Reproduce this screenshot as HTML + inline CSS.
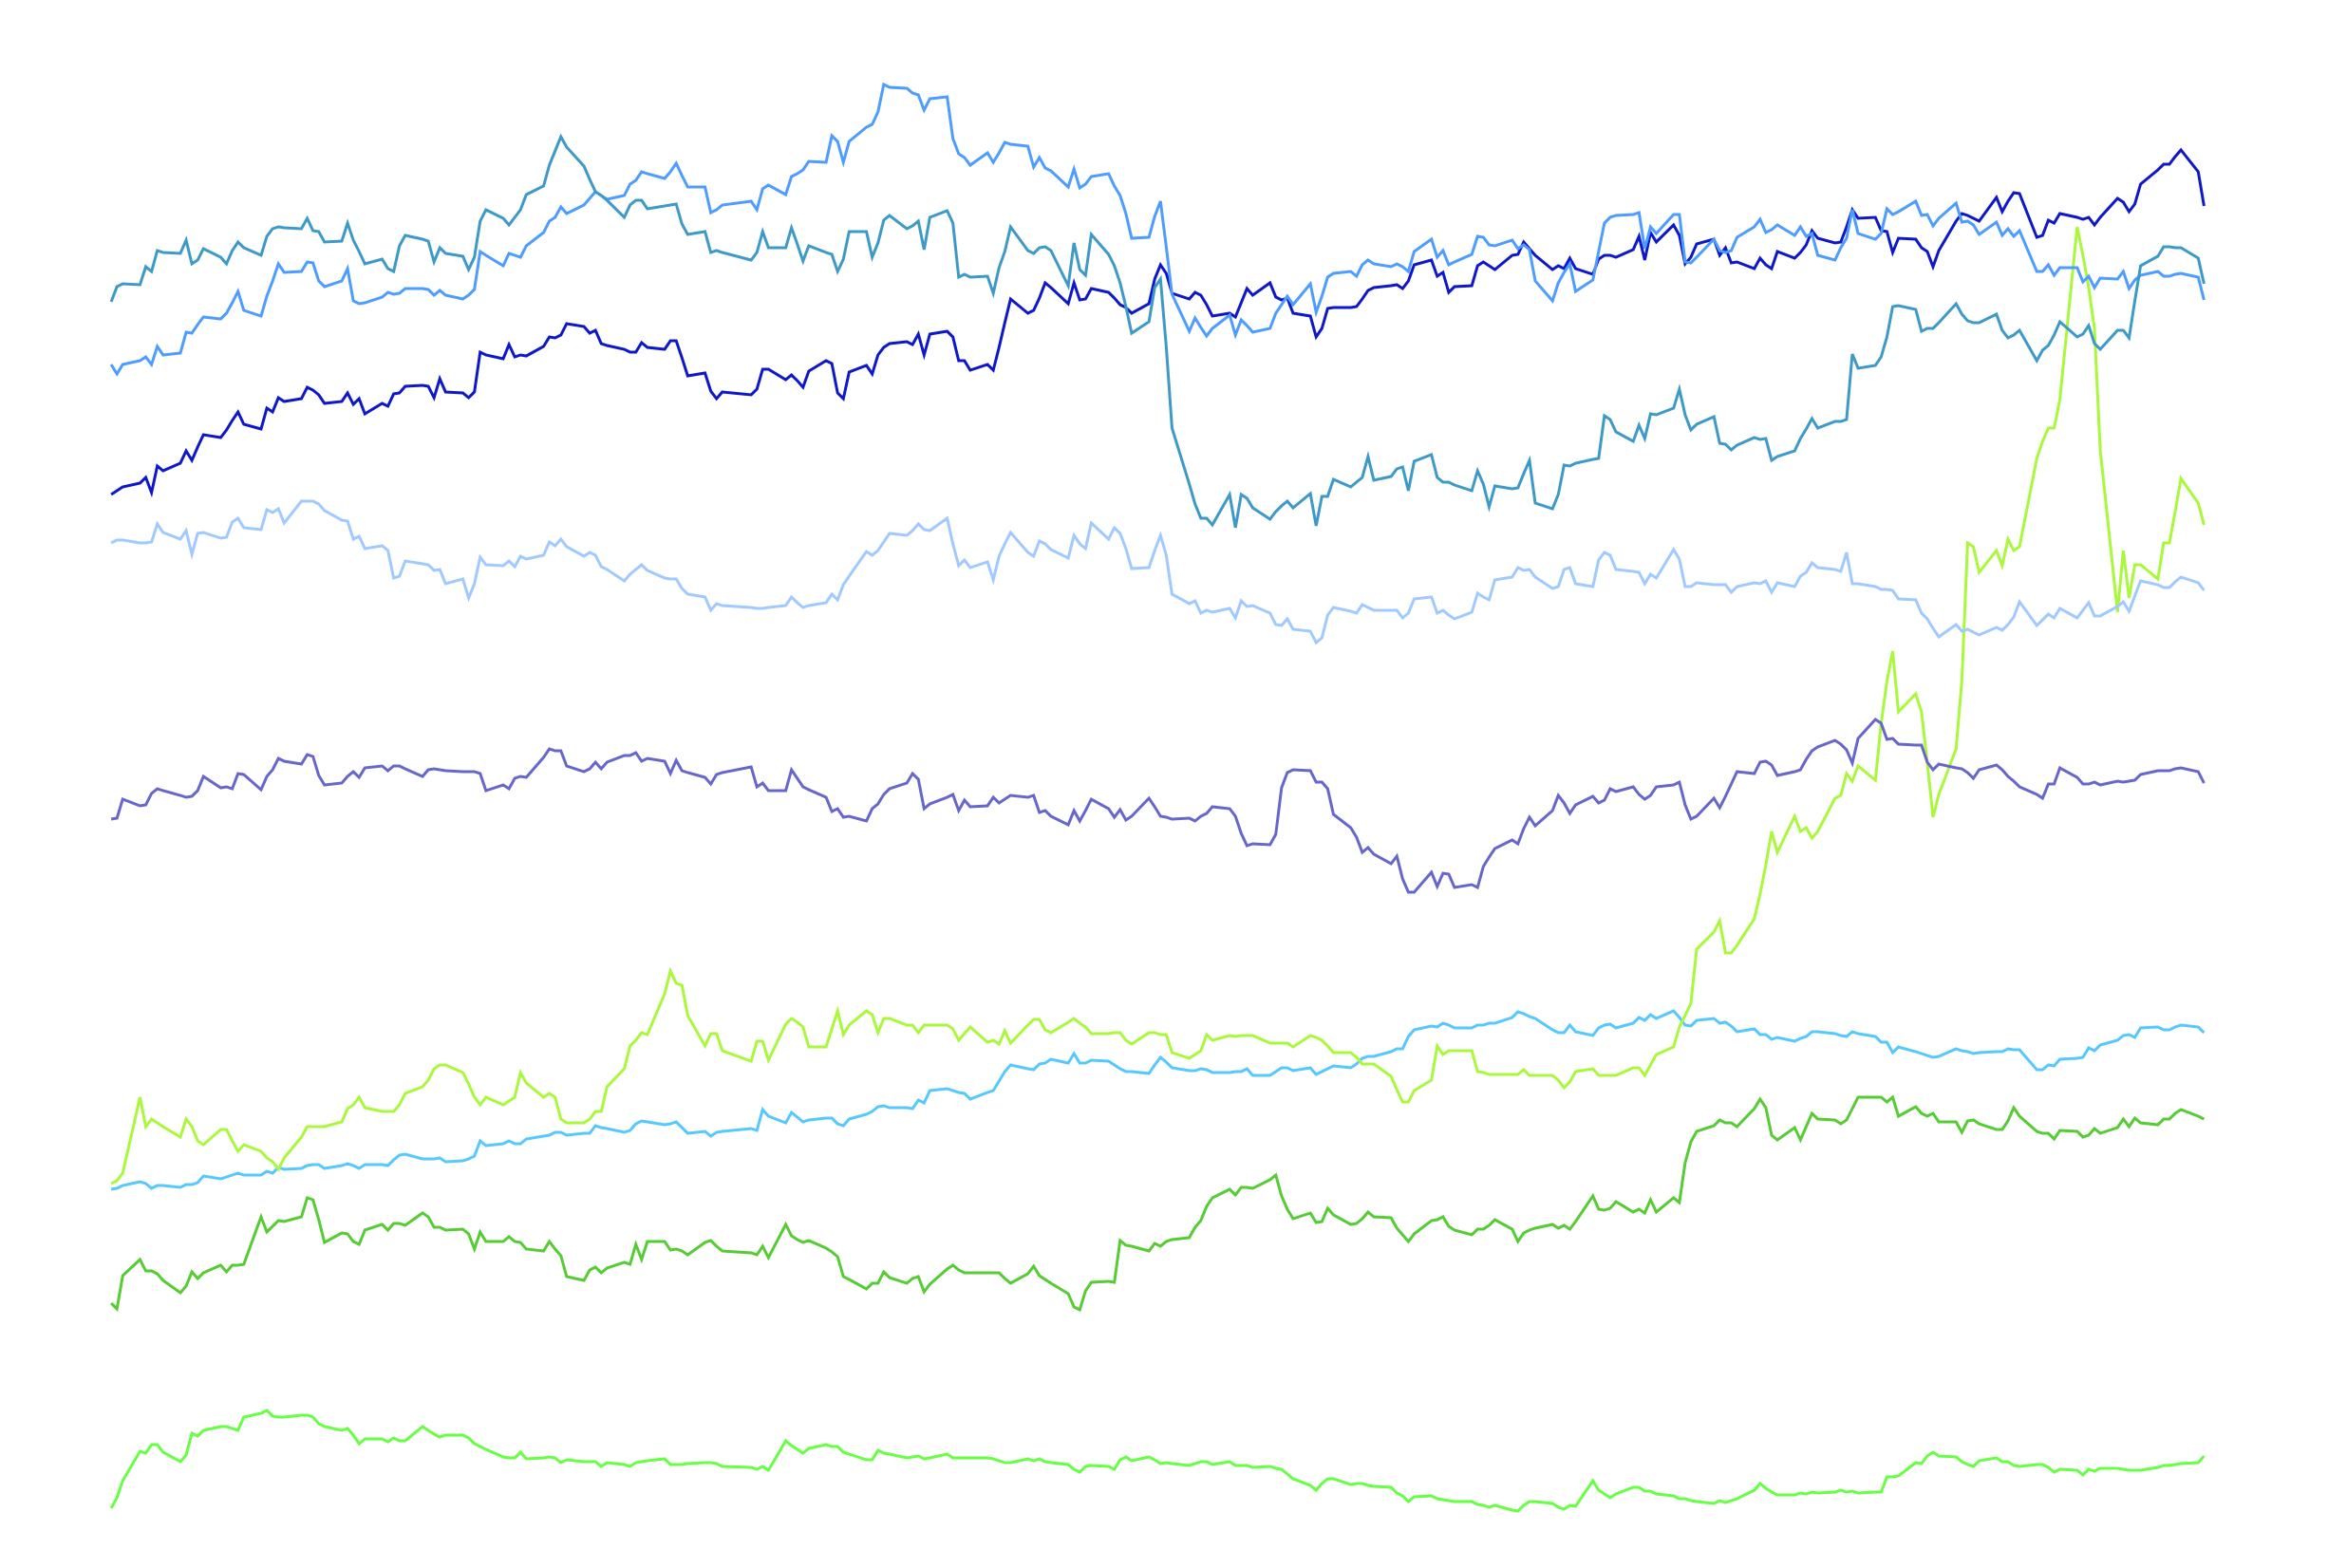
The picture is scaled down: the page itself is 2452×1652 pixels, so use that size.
<!DOCTYPE html>
<html lang="en">
<head>
<meta charset="utf-8">
<title>Multi-series line chart</title>
<style>
html,body{margin:0;padding:0;background:#fff;}
#chart{display:block;width:2452px;height:1652px;background:#fff;}
</style>
</head>
<body>
<svg id="chart" xmlns="http://www.w3.org/2000/svg" width="2452" height="1652" viewBox="0 0 2452 1652"></svg>
<script>
// Calendar-day offsets: weekends are skipped, and these two holidays have no data.
const lastDay = 363;
const holidays = [107, 110];

const seriesTeal = [
1682,1698,1701,1700,1719,1714,1736,1734,1733,1747,1722,1726,1738,1729,1722,1736,1745,1739,1731,1751,1759,1761,1760,1759,1770,1757,1756,1745,1746,1765,1747,1735,1722,1727,1717,1714,1741,1752,1748,1746,1724,1739,1733,1730,1716,1729,1767,1779,1770,1763,1771,1779,1795,1804,1826,1841,1856,1845,1825,1811,1798,1794,1789,
1771,1784,1789,1789,1780,1783,1784,1785,1764,1753,1756,1734,1736,1734,1726,1734,1756,1739,1739,1760,1743,1725,1741,1734,1732,1714,1727,1756,1756,1729,1744,1768,1773,1759,1762,1767,1737,1771,1778,1765,1708,1711,1708,1709,1691,1718,1735,1761,1736,1733,1739,1740,1736,1699,1744,1716,1710,1753,1732,1720,1702,1677,1649,
1661,1697,1706,1635,1549,1490,1469,1454,1454,1447,1479,1444,1479,1475,1465,1453,1461,1467,1472,1465,1480,1446,1477,1477,1495,1487,1492,1497,1519,1494,1498,1506,1508,1483,1514,1521,1497,1492,1492,1489,1483,1504,1490,1466,1488,1485,1486,1501,1515,1470,1464,1479,1510,1509,1512,1516,1517,1562,1558,1545,1535,1552,1538,1564,1563,
1570,1590,1563,1547,1553,
1561,1533,1532,1526,1531,1539,1537,1538,1515,1519,1525,1538,1548,1559,1549,1556,1556,1558,1627,1612,1615,1624,1645,1677,1678,1674,1651,1654,1654,1660,1680,1669,1662,1660,1660,1669,1652,1644,1647,1652,1620,1631,1636,1647,1661,1645,1648,1657,1638,1632,1652,1652,1644,1683,1720,1730,1740,1740,1739,1739,1728,1701
];
const seriesBlue = [
1616,1606,1616,1620,1624,1616,1635,1626,1628,1650,1649,1658,1666,1664,1670,1681,1693,1673,1667,1688,1704,1722,1713,1714,1724,1723,1704,1698,1704,1717,1683,1680,1681,1687,1692,1690,1691,1696,1696,1695,1689,1694,1689,1685,1689,1695,1735,1731,1720,1733,1731,1729,1741,1755,1767,1771,1782,1775,1784,1791,1798,1794,1790,
1794,1806,1810,1819,1817,1812,1819,1828,1815,1803,1803,1776,1779,1784,1788,1779,1801,1805,1795,1814,1817,1821,1830,1829,1857,1851,1829,1851,1866,1869,1882,1911,1908,1907,1902,1900,1884,1896,1898,1854,1838,1834,1826,1839,1829,1839,1850,1848,1846,1824,1834,1823,1820,1803,1822,1802,1806,1814,1817,1804,1794,1775,1749,
1750,1772,1788,1740,1690,1651,1665,1655,1646,1654,1668,1647,1663,1657,1650,1654,1670,1679,1688,1679,1701,1671,1688,1708,1712,1714,1709,1721,1726,1722,1719,1722,1719,1714,1735,1748,1729,1736,1721,1724,1732,1751,1750,1742,1741,1747,1738,1742,1737,1704,1683,1702,1713,1722,1693,1705,1735,1765,1771,1773,1774,1776,1738,1761,1754,
1774,1774,1724,1723,1729,
1748,1736,1734,1736,1750,1761,1769,1755,1758,1763,1752,1761,1751,1754,1731,1726,1739,1749,1779,1754,1748,1754,1780,1774,1777,1788,1773,1774,1762,1770,1786,1766,1767,1763,1753,1766,1752,1759,1751,1757,1714,1714,1721,1710,1718,1718,1703,1709,1697,1707,1706,1714,1696,1705,1710,1714,1709,1709,1711,1712,1708,1684
];
const seriesNavy = [
1479,1483,1487,1491,1497,1481,1509,1504,1512,1525,1515,1529,1542,1539,1547,1557,1566,1553,1548,1570,1566,1581,1577,1580,1592,1589,1584,1575,1577,1586,1574,1580,1564,1575,1572,1585,1586,1593,1594,1593,1581,1601,1587,1586,1581,1587,1629,1626,1622,1637,1624,1626,1625,1635,1645,1644,1647,1659,1656,1649,1652,1638,1636,
1632,1629,1629,1639,1634,1632,1641,1641,1623,1604,1607,1588,1580,1587,1584,1590,1611,1611,1600,1605,1599,1592,1609,1620,1617,1586,1580,1608,1615,1606,1626,1634,1638,1640,1637,1648,1626,1648,1651,1645,1620,1620,1610,1616,1610,1634,1660,1685,1670,1673,1686,1702,1697,1680,1702,1684,1685,1696,1692,1686,1679,1676,1670,
1680,1706,1721,1712,1691,1685,1692,1689,1679,1667,1670,1666,1681,1696,1689,1702,1687,1684,1686,1670,1667,1645,1654,1675,1676,1676,1677,1685,1694,1697,1699,1700,1696,1704,1721,1726,1709,1713,1692,1698,1699,1720,1724,1720,1716,1731,1732,1745,1738,1731,1716,1720,1717,1728,1717,1711,1727,1731,1731,1729,1737,1751,1726,1755,1745,
1763,1752,1722,1729,1743,
1748,1731,1739,1723,1724,1717,1728,1721,1717,1735,1728,1734,1742,1757,1749,1744,1745,1761,1779,1770,1771,1757,1756,1734,1749,1748,1739,1735,1719,1736,1767,1775,1773,1770,1767,1792,1777,1788,1797,1796,1750,1752,1768,1765,1775,1771,1769,1771,1763,1771,1791,1787,1777,1785,1806,1821,1827,1827,1835,1842,1819,1783
];
const seriesLightBlue = [
1428,1431,1431,1428,1428,1429,1448,1439,1432,1441,1416,1438,1439,1433,1434,1450,1454,1444,1442,1463,1460,1464,1449,1472,1472,1472,1469,1462,1452,1451,1432,1435,1422,1425,1420,1391,1393,1409,1406,1405,1399,1400,1385,1390,1370,1385,1413,1405,1404,1409,1403,1414,1411,1415,1429,1425,1432,1424,1414,1418,1415,1403,1400,
1388,1395,1400,1405,1399,1391,1390,1390,1380,1374,1371,1357,1364,1362,1360,1359,1359,1360,1362,1371,1365,1360,1362,1365,1374,1368,1384,1393,1419,1415,1420,1429,1438,1436,1441,1448,1442,1441,1454,1427,1404,1410,1402,1408,1389,1414,1427,1439,1418,1414,1430,1427,1421,1412,1436,1427,1422,1449,1432,1444,1438,1422,1401,
1402,1420,1436,1415,1374,1364,1367,1354,1357,1355,1359,1349,1367,1361,1362,1354,1342,1341,1348,1337,1335,1323,1328,1352,1360,1356,1354,1363,1360,1357,1357,1357,1349,1354,1369,1371,1354,1357,1352,1348,1355,1375,1371,1368,1389,1392,1402,1399,1400,1392,1380,1382,1400,1402,1385,1382,1410,1418,1415,1400,1398,1397,1385,1395,1391,
1421,1411,1382,1382,1386,
1384,1384,1384,1376,1382,1386,1385,1388,1376,1386,1382,1393,1397,1407,1402,1400,1398,1418,1385,1385,1382,1379,1379,1378,1369,1368,1354,1348,1338,1329,1342,1335,1337,1334,1331,1339,1336,1342,1350,1366,1341,1347,1353,1349,1359,1349,1357,1365,1351,1351,1361,1366,1356,1372,1388,1384,1381,1381,1387,1392,1386,1378
];
const seriesPurple = [
1137,1138,1158,1151,1152,1164,1169,1167,1162,1160,1161,1167,1182,1170,1171,1169,1185,1184,1168,1182,1189,1201,1198,1195,1205,1203,1183,1173,1175,1182,1187,1181,1191,1193,1188,1193,1193,1190,1182,1189,1190,1189,1188,1187,1187,1187,1185,1167,1173,1169,1180,1182,1181,1202,1211,1209,1209,1193,1187,1190,1197,1190,1197,
1204,1204,1207,1198,1201,1198,1185,1199,1188,1186,1181,1174,1184,1186,1192,1171,1175,1167,1167,1189,1180,1171,1168,1160,1145,1148,1139,1140,1135,1148,1153,1163,1169,1175,1185,1179,1148,1153,1160,1163,1146,1157,1150,1151,1160,1154,1158,1162,1160,1162,1144,1146,1140,1131,1146,1135,1146,1158,1148,1139,1147,1136,1140,
1159,1150,1140,1139,1137,1138,1135,1140,1143,1150,1148,1140,1122,1109,1111,1110,1121,1170,1186,1189,1188,1176,1176,1169,1142,1128,1118,1102,1107,1100,1090,1098,1074,1060,1060,1081,1066,1080,1079,1065,1068,1065,1087,1097,1106,1115,1111,1127,1139,1130,1146,1162,1154,1143,1152,1161,1154,1157,1169,1166,1171,1163,1158,1162,1171,
1173,1176,1152,1137,1140,
1159,1149,1161,1174,1187,1185,1197,1198,1194,1183,1187,1189,1200,1209,1213,1220,1216,1210,1196,1222,1242,1238,1221,1222,1216,1215,1215,1197,1189,1195,1191,1190,1186,1180,1189,1194,1189,1182,1177,1171,1163,1159,1174,1174,1191,1181,1174,1174,1176,1173,1177,1176,1177,1178,1184,1188,1188,1188,1190,1191,1187,1175
];
const seriesLime = [
753,756,764,844,813,821,817,813,802,821,813,798,794,810,810,798,787,794,787,780,776,768,780,802,813,813,813,813,818,832,836,844,833,829,829,829,836,848,855,862,874,878,878,870,858,844,836,844,836,840,844,870,859,844,848,844,821,817,817,821,829,829,855,
874,898,904,912,910,953,977,964,962,930,898,911,911,893,882,903,903,883,921,927,923,918,897,897,916,935,910,920,935,931,912,927,927,920,920,912,920,920,920,916,904,911,918,902,904,900,914,901,920,926,926,915,912,923,927,922,918,911,911,912,912,904,900,
912,912,910,910,891,885,889,893,910,904,909,908,909,909,909,901,901,901,901,897,909,907,904,898,891,891,886,879,879,879,866,852,839,839,851,862,898,889,893,893,893,871,870,868,868,868,868,873,867,867,867,862,854,860,871,874,867,867,867,867,875,875,867,878,889,
897,918,930,943,1000,
1018,1030,996,996,1004,1032,1058,1089,1124,1102,1140,1124,1128,1117,1124,1159,1162,1185,1177,1193,1178,1238,1282,1314,1250,1269,1250,1197,1139,1163,1211,1283,1428,1424,1397,1420,1404,1432,1420,1424,1517,1535,1549,1549,1579,1761,1731,1697,1654,1526,1355,1420,1370,1405,1405,1390,1428,1428,1461,1496,1470,1447
];
const seriesSky = [
747,748,751,755,753,748,751,751,749,752,752,754,761,758,760,762,764,762,762,766,764,770,768,769,772,773,773,769,772,774,772,769,773,773,772,778,783,784,779,779,779,780,776,777,779,782,798,793,795,798,795,795,800,803,804,807,807,804,806,806,814,812,811,
807,809,816,819,818,815,816,818,812,806,808,803,807,808,811,809,831,824,817,828,823,818,820,822,822,816,814,821,826,829,834,835,833,833,832,841,838,851,853,851,849,848,842,849,851,861,871,878,874,873,879,880,884,880,890,880,880,883,882,878,874,871,871,
869,878,886,881,875,872,872,874,873,870,870,871,871,874,867,867,871,875,875,872,875,868,871,874,877,875,879,885,887,887,892,895,895,908,915,919,918,922,920,917,917,920,920,922,922,928,934,932,929,927,915,912,912,920,913,909,917,920,921,917,922,928,925,931,927,
935,928,920,919,925,
927,922,923,919,913,916,910,910,905,907,903,906,908,913,913,911,909,908,913,911,908,902,902,891,897,892,890,888,886,887,895,893,892,890,891,892,892,895,894,894,873,873,878,877,884,885,886,896,893,899,904,909,910,907,917,918,915,915,918,920,918,912
];
const seriesGreen = [
627,621,656,673,661,661,658,651,638,645,660,653,659,667,660,667,667,668,718,702,708,714,713,718,738,736,715,691,701,700,692,689,704,710,704,711,711,709,722,718,707,707,704,705,700,684,702,692,692,697,692,691,684,682,692,684,677,655,651,662,665,659,664,
670,668,689,673,692,692,683,684,682,678,691,693,687,682,680,678,687,675,710,698,694,691,693,685,681,676,655,652,642,648,648,660,654,648,653,655,639,647,663,667,662,659,659,659,659,659,653,648,658,666,656,652,648,637,623,620,640,649,650,649,693,688,687,
682,690,687,692,694,696,707,714,729,738,747,741,749,749,748,757,762,740,726,716,722,712,713,727,720,710,711,716,723,718,717,706,699,692,700,714,715,718,708,704,699,705,705,709,715,705,692,701,704,706,710,706,709,705,713,740,726,725,727,734,723,726,722,736,723,
738,733,775,797,808,
814,820,817,817,813,832,842,833,804,799,812,799,813,827,821,820,816,820,832,844,844,844,839,844,824,834,827,824,827,818,818,807,819,820,816,810,810,819,833,824,808,806,806,800,809,808,802,804,811,806,812,821,813,822,817,815,821,821,827,831,824,821
];
const seriesBrightGreen = [
411,422,440,471,469,478,478,470,460,467,490,487,493,497,497,495,493,507,511,514,508,507,507,509,509,507,500,497,493,495,488,479,484,484,481,485,482,482,497,493,489,486,488,488,485,479,476,473,465,464,464,470,463,464,465,464,459,462,460,460,460,455,459,
457,455,459,460,461,463,457,457,457,458,459,459,458,455,454,452,455,451,482,477,473,469,474,478,476,476,470,468,462,462,472,469,468,464,465,466,463,464,468,464,464,464,464,464,463,461,459,459,463,461,463,460,459,457,452,449,455,456,455,452,462,465,461,
465,462,458,459,458,456,458,460,460,457,460,456,456,456,454,455,453,452,447,442,435,430,437,442,442,436,437,437,435,434,433,427,424,418,423,424,421,420,419,418,418,415,414,412,414,409,408,414,418,418,416,412,410,414,413,440,430,426,422,426,433,433,429,429,426,
424,421,421,419,418,
416,419,417,419,421,430,437,432,428,425,425,427,426,428,427,428,430,428,429,427,428,428,444,444,445,459,458,466,470,466,465,460,457,455,461,464,460,460,456,455,457,457,454,449,452,451,446,452,450,453,453,452,451,451,451,454,456,456,457,458,459,466
];
const seriesNames = ['line-bright-green','line-green','line-sky-blue','line-lime','line-purple','line-light-blue','line-navy','line-blue','line-teal'];
const seriesColors = ['#66ff44','#55cc33','#55c8ff','#aaf83c','#6666cc','#a0caff','#0f18c8','#4d9cff','#3d9ac8'];
const seriesValues = [seriesBrightGreen,seriesGreen,seriesSky,seriesLime,seriesPurple,seriesLightBlue,seriesNavy,seriesBlue,seriesTeal];

const tradingDays = [];
for (let d = 0; d <= lastDay; d++) {
  const wd = d % 7;
  if (wd === 3 || wd === 4 || holidays.indexOf(d) >= 0) continue;
  tradingDays.push(d);
}

const plotLeft = 117.1, plotRight = 2321.4, plotTop = 50, plotBottom = 1600;
const valueMin = 400, valueMax = 1950;
function xScale(day) {
  return plotLeft + (day / lastDay) * (plotRight - plotLeft);
}
function yScale(v) {
  return plotBottom - ((v - valueMin) / (valueMax - valueMin)) * (plotBottom - plotTop);
}

const svg = document.getElementById('chart');
const NS = 'http://www.w3.org/2000/svg';
seriesValues.forEach(function (values, s) {
  let d = '';
  values.forEach(function (v, i) {
    if (i >= tradingDays.length) return;
    d += (i === 0 ? 'M' : 'L') + xScale(tradingDays[i]).toFixed(2) + ' ' + yScale(v).toFixed(2);
  });
  const path = document.createElementNS(NS, 'path');
  path.setAttribute('d', d);
  path.setAttribute('fill', 'none');
  path.setAttribute('stroke', seriesColors[s]);
  path.setAttribute('stroke-width', '3');
  path.setAttribute('stroke-linejoin', 'miter');
  
  
  svg.appendChild(path);
});
</script>
</body>
</html>
